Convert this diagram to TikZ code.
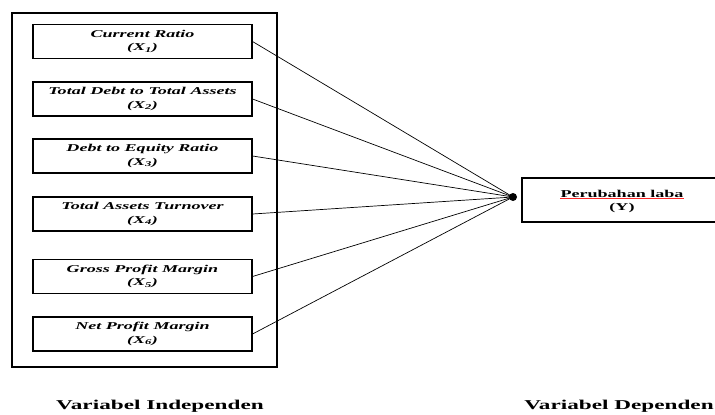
\documentclass[tikz,border=0pt]{standalone}
\usepackage{fontspec}
\setmainfont{Liberation Serif}[FakeStretch=1.72]
\begin{document}
\begin{tikzpicture}[x=1pt,y=-1pt,
  varbox/.style={draw, line width=1.1pt, minimum width=219pt, minimum height=34pt, inner sep=0pt,
    align=center, font=\fontsize{10.5}{13.5}\selectfont\bfseries\itshape},
  link/.style={line width=0.7pt},
  ytext/.style={inner sep=0pt, font=\fontsize{10.5}{13.5}\selectfont\bfseries},
  caption/.style={font=\fontsize{13.5}{15}\selectfont\bfseries}]
\useasboundingbox (0,0) rectangle (715,415);
\node[draw, line width=2.6pt, minimum width=265pt, minimum height=354pt, inner sep=0pt] (outer) at (144.5,190) {};
\node[varbox] (b1) at (142.5,41.5) {Current Ratio\\(X\textsubscript{1})};
\node[varbox] (b2) at (142.5,99) {Total Debt to Total Assets\\(X\textsubscript{2})};
\node[varbox] (b3) at (142.5,156) {Debt to Equity Ratio\\(X\textsubscript{3})};
\node[varbox] (b4) at (142.5,214) {Total Assets Turnover\\(X\textsubscript{4})};
\node[varbox] (b5) at (142.5,276.5) {Gross Profit Margin\\(X\textsubscript{5})};
\node[varbox] (b6) at (142.5,334) {Net Profit Margin\\(X\textsubscript{6})};
\node[circle, fill=black, inner sep=0pt, minimum size=8pt] (dot) at (513,197) {};
\node[draw, line width=1.1pt, minimum width=200pt, minimum height=44pt, inner sep=0pt] (y) at (622,200) {};
\node[ytext, anchor=base] (pl) at (622,197) {Perubahan laba};
\node[ytext, anchor=base] (yl) at (622,210.5) {(Y)};
\draw[red!85, line width=0.8pt] ([yshift=-1.8pt]pl.base west) -- ([yshift=-1.8pt]pl.base east);
\foreach \b in {b1,b2,b3,b4,b5,b6} \draw[link] (\b.east) -- (dot.center);
\node[caption] (ci) at (160,406) {Variabel Independen};
\node[caption] (cd) at (619,406) {Variabel Dependen};
\end{tikzpicture}
\end{document}
